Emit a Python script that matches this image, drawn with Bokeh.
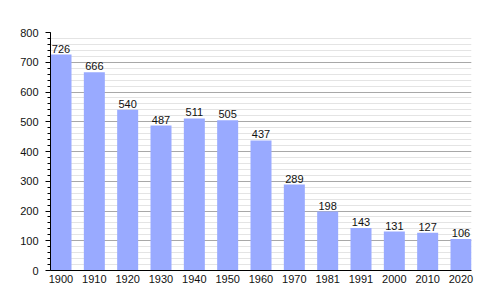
from bokeh.plotting import figure
from bokeh.models import ColumnDataSource, FixedTicker, Range1d
from bokeh.core.properties import value
from bokeh.embed import file_html
from bokeh.resources import INLINE

years = ["1900", "1910", "1920", "1930", "1940", "1950", "1960", "1970", "1981", "1991", "2000", "2010", "2020"]
population = [726, 666, 540, 487, 511, 505, 437, 289, 198, 143, 131, 127, 106]
y_ticks = [0, 100, 200, 300, 400, 500, 600, 700, 800]

xs = list(range(len(years)))
bar_w = 0.63
src = ColumnDataSource(dict(x=xs, top=population, label=[str(v) for v in population]))

p = figure(width=500, height=300, output_backend="svg", toolbar_location=None,
           x_range=Range1d(-bar_w / 2, len(years) - 1 + bar_w / 2),
           y_range=Range1d(0, 800),
           min_border_left=50, min_border_right=29, min_border_top=32, min_border_bottom=30)
p.outline_line_color = None
p.background_fill_color = "white"
p.border_fill_color = "white"

p.vbar(x="x", top="top", width=bar_w, bottom=0, source=src, fill_color="#99aaff", line_color=None)
p.text(x="x", y="top", text="label", source=src, text_align="center", text_baseline="bottom",
       text_font=value("Liberation Sans"), text_font_size="11px", text_color="#111111", y_offset=-2)

p.yaxis.ticker = FixedTicker(ticks=y_ticks, minor_ticks=list(range(0, 801, 20)))
p.yaxis.axis_line_color = "black"
p.yaxis.major_tick_out = 5
p.yaxis.major_tick_in = 0
p.yaxis.minor_tick_out = 3
p.yaxis.minor_tick_in = 0
p.yaxis.major_label_standoff = 7
p.yaxis.major_label_text_font = "Liberation Sans"
p.yaxis.major_label_text_font_size = "11px"
p.yaxis.major_label_text_color = "#111111"

p.xaxis.ticker = FixedTicker(ticks=xs)
p.xaxis.major_label_overrides = {i: y for i, y in enumerate(years)}
p.xaxis.axis_line_color = "black"
p.xaxis.major_tick_out = 0
p.xaxis.major_tick_in = 0
p.xaxis.minor_tick_out = 0
p.xaxis.major_label_standoff = 4
p.xaxis.major_label_text_font = "Liberation Sans"
p.xaxis.major_label_text_font_size = "11px"
p.xaxis.major_label_text_color = "#111111"

p.xgrid.grid_line_color = None
p.ygrid.grid_line_color = "#a8a8a8"
p.ygrid.minor_grid_line_color = "#e4e4e4"
p.ygrid.level = "underlay"

open("out.html", "w").write(file_html(p, INLINE))
